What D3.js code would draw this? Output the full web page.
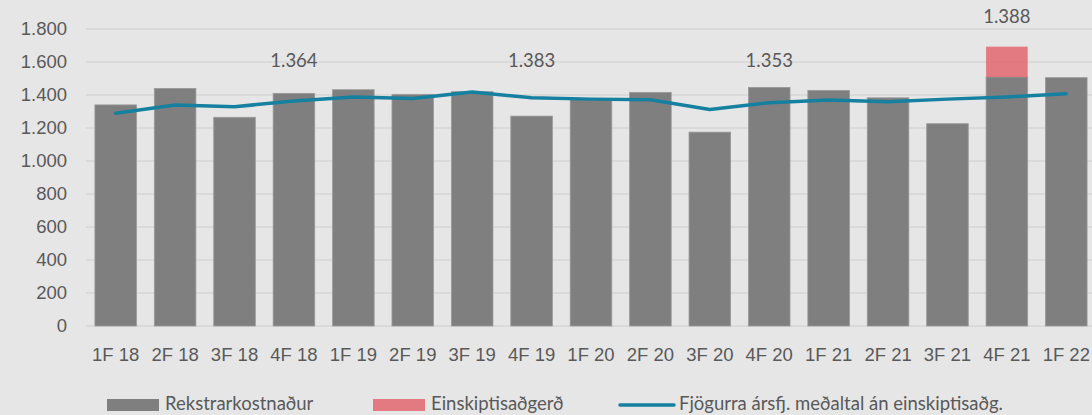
<!DOCTYPE html>
<html>
<head>
<meta charset="utf-8">
<script src="https://cdn.jsdelivr.net/npm/d3@7"></script>
<style>
  body { margin: 0; background: #e6e6e6; }
  svg { display: block; font-family: Lato, "Open Sans", sans-serif; }
  .tick text { fill: #595959; font-size: 18.5px; }
</style>
</head>
<body>
<div id="chart"></div>
<script>
const quarters = ["1F 18","2F 18","3F 18","4F 18","1F 19","2F 19","3F 19","4F 19","1F 20","2F 20","3F 20","4F 20","1F 21","2F 21","3F 21","4F 21","1F 22"]
const operating = [1340,1440,1265,1410,1432,1404,1420,1272,1377,1416,1175,1446,1428,1383,1226,1509,1505]
const oneOff = [0,0,0,0,0,0,0,0,0,0,0,0,0,0,0,184,0]
const rolling = [1290,1339,1329,1364,1388,1379,1418,1383,1375,1371,1312,1353,1369,1359,1375,1388,1408]
const yTicks = [0,200,400,600,800,1000,1200,1400,1600,1800]
const annualLabels = [{q: "4F 18", text: "1.364", at: 1600}, {q: "4F 19", text: "1.383", at: 1600},
                      {q: "4F 20", text: "1.353", at: 1600}, {q: "4F 21", text: "1.388", at: 1865}]
const legendItems = ["Rekstrarkostnaður", "Einskiptisaðgerð", "Fjögurra ársfj. meðaltal án einskiptisaðg."]

const width = 1092, height = 415
const margin = { top: 29, left: 86, right: -4, bottom: 89 }

const fmt = d => d3.format(",")(d).replace(/,/g, ".")

let svg = d3.select("#chart").append("svg")
    .attr("width", width)
    .attr("height", height)

svg.append("rect").attr("width", width).attr("height", height).attr("fill", "#e6e6e6")

let x = d3.scaleBand()
    .domain(quarters)
    .range([margin.left, width - margin.right])
    .paddingInner(0.3)
    .paddingOuter(0.15)

let y = d3.scaleLinear()
    .domain([0, 1800])
    .range([height - margin.bottom, margin.top])

// gridlines
svg.append("g")
    .selectAll("line")
    .data(yTicks)
    .enter()
    .append("line")
    .attr("x1", margin.left)
    .attr("x2", width)
    .attr("y1", d => y(d))
    .attr("y2", d => y(d))
    .attr("stroke", "#d6d6d6")
    .attr("stroke-width", 1.3)

let yAxis = svg.append("g")
    .attr("transform", `translate(${margin.left},0)`)
    .call(d3.axisLeft(y).tickValues(yTicks).tickSize(0).tickPadding(19).tickFormat(fmt))
yAxis.select(".domain").remove()

let xAxis = svg.append("g")
    .attr("transform", `translate(0,${y(0)})`)
    .call(d3.axisBottom(x).tickSize(0).tickPadding(22))
xAxis.select(".domain").remove()

// bars
svg.append("g")
    .selectAll("rect")
    .data(quarters)
    .enter()
    .append("rect")
    .attr("x", d => x(d))
    .attr("width", x.bandwidth())
    .attr("y", (d, i) => y(operating[i]))
    .attr("height", (d, i) => y(0) - y(operating[i]))
    .attr("fill", "#7f7f7f")
    .attr("stroke", "#9a9a9a")
    .attr("stroke-width", 0.8)

svg.append("g")
    .selectAll("rect")
    .data(quarters.filter((d, i) => oneOff[i] > 0))
    .enter()
    .append("rect")
    .attr("x", d => x(d))
    .attr("width", x.bandwidth())
    .attr("y", d => { let i = quarters.indexOf(d); return y(operating[i] + oneOff[i]) })
    .attr("height", d => { let i = quarters.indexOf(d); return y(operating[i]) - y(operating[i] + oneOff[i]) })
    .attr("fill", "#e2666e")
    .attr("fill-opacity", 0.85)

// rolling average line
let line = d3.line()
    .x((d, i) => x(quarters[i]) + x.bandwidth() / 2)
    .y(d => y(d))

svg.append("path")
    .datum(rolling)
    .attr("d", line)
    .attr("fill", "none")
    .attr("stroke", "#15809f")
    .attr("stroke-width", 3.5)
    .attr("stroke-linecap", "round")
    .attr("stroke-linejoin", "round")

// annual average labels
svg.append("g")
    .selectAll("text")
    .data(annualLabels)
    .enter()
    .append("text")
    .attr("x", d => x(d.q) + x.bandwidth() / 2)
    .attr("y", d => y(d.at))
    .attr("text-anchor", "middle")
    .attr("dominant-baseline", "middle")
    .attr("fill", "#595959")
    .attr("font-size", "18.5px")
    .text(d => d.text)

// legend
let legend = svg.append("g").attr("transform", "translate(0,405)")
let lx = [107, 373, 620]

legend.append("rect").attr("x", lx[0]).attr("y", -6).attr("width", 52).attr("height", 12).attr("fill", "#7f7f7f")
legend.append("rect").attr("x", lx[1]).attr("y", -6).attr("width", 52).attr("height", 12).attr("fill", "#e2666e").attr("fill-opacity", 0.85)
legend.append("line").attr("x1", lx[2]).attr("x2", lx[2] + 54).attr("y1", 0).attr("y2", 0)
    .attr("stroke", "#15809f").attr("stroke-width", 3.5).attr("stroke-linecap", "round")

legend.selectAll("text")
    .data(legendItems)
    .enter()
    .append("text")
    .attr("x", (d, i) => lx[i] + (i == 2 ? 59 : 58))
    .attr("y", 0)
    .attr("dominant-baseline", "middle")
    .attr("fill", "#595959")
    .attr("font-size", "18.5px")
    .text(d => d)
</script>
</body>
</html>
